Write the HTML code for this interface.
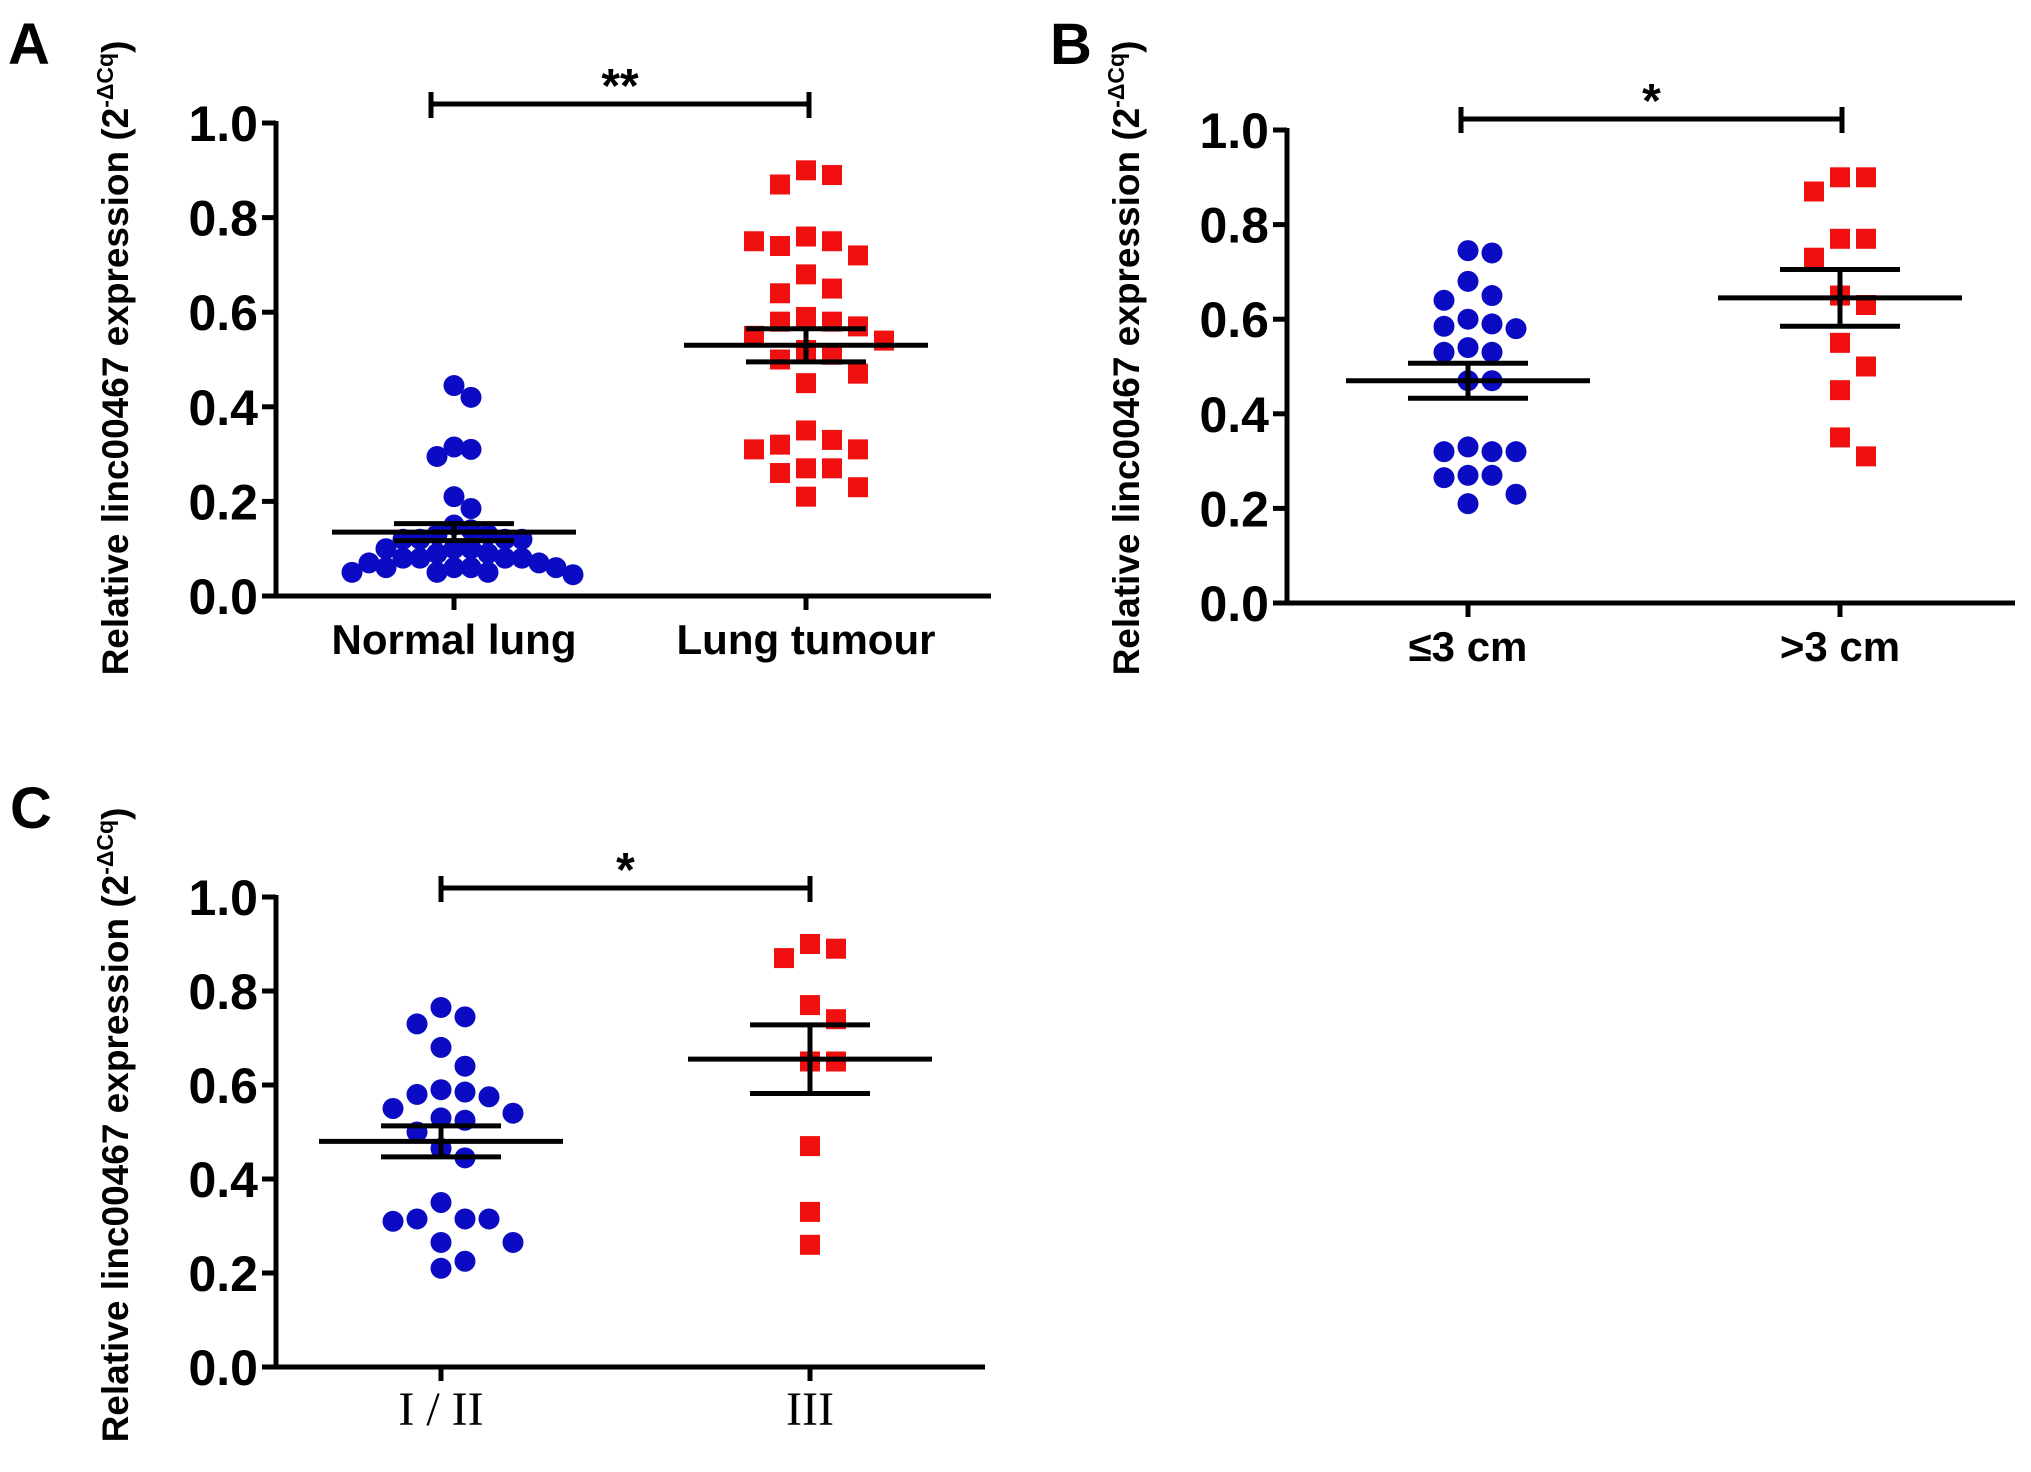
<!DOCTYPE html>
<html><head><meta charset="utf-8"><style>
html,body{margin:0;padding:0;background:#fff;}
svg{display:block;font-family:"Liberation Sans",Arial,sans-serif;}
</style></head><body>
<svg id="fig" width="2031" height="1472" viewBox="0 0 2031 1472" xmlns="http://www.w3.org/2000/svg"></svg>
<script>
// Panel A data
const aCategories = ["Normal lung", "Lung tumour"];
const aNormal = [0.445,0.42,0.315,0.31,0.295,0.21,0.185,0.15,0.14,0.13,0.13,0.12,0.12,0.12,0.12,0.10,0.10,0.10,0.09,0.09,0.08,0.08,0.08,0.08,0.07,0.07,0.06,0.06,0.06,0.06,0.05,0.05,0.05,0.045];
const aTumour = [0.90,0.89,0.87,0.76,0.75,0.74,0.72,0.75,0.68,0.65,0.64,0.59,0.58,0.58,0.57,0.55,0.54,0.52,0.51,0.50,0.47,0.45,0.35,0.33,0.32,0.31,0.31,0.27,0.27,0.26,0.23,0.21];
const aMean = [0.135, 0.53];
const aSem = [0.018, 0.035];
// Panel B data
const bCategories = ["\u22643 cm", ">3 cm"];
const bSmall = [0.745,0.74,0.68,0.65,0.64,0.60,0.59,0.585,0.58,0.54,0.53,0.53,0.47,0.47,0.33,0.32,0.32,0.32,0.27,0.27,0.265,0.23,0.21];
const bLarge = [0.90,0.90,0.87,0.77,0.77,0.73,0.65,0.63,0.55,0.50,0.45,0.35,0.31];
const bMean = [0.47, 0.645];
const bSem = [0.037, 0.06];
// Panel C data
const cCategories = ["I / II", "III"];
const cEarly = [0.765,0.745,0.73,0.68,0.64,0.59,0.585,0.58,0.575,0.55,0.54,0.53,0.525,0.50,0.465,0.445,0.35,0.315,0.315,0.315,0.31,0.265,0.265,0.225,0.21];
const cLate = [0.90,0.89,0.87,0.77,0.74,0.65,0.65,0.47,0.33,0.26];
const cMean = [0.48, 0.655];
const cSem = [0.033, 0.073];
const yTicks = [0, 0.2, 0.4, 0.6, 0.8, 1.0];
const yTickLabels = ["0.0","0.2","0.4","0.6","0.8","1.0"];

const NS = "http://www.w3.org/2000/svg";
const svg = document.getElementById("fig");
function mk(tag, attrs, parent){
  const e = document.createElementNS(NS, tag);
  for (const k in attrs) e.setAttribute(k, attrs[k]);
  (parent||svg).appendChild(e);
  return e;
}
function swarm(vals, yScale, d){
  const placed = [];
  return vals.map(v => {
    const y = yScale(v);
    let off = 0;
    for (let k = 0; k < 40; k++){
      const cand = k === 0 ? 0 : (k % 2 ? 1 : -1) * Math.ceil(k/2) * d;
      if (placed.every(p => Math.hypot(p[0]-cand, p[1]-y) >= d*0.98)){ off = cand; break; }
    }
    placed.push([off, y]);
    return [off, y];
  });
}
function panel(p){
  const g = mk("g", {});
  
  
  const yS = v => p.y0 - v * (p.y0 - p.y1);
  const lb = mk("text", {x:p.lx, y:p.ly, "font-size":58, "font-weight":"bold", fill:"#000"}, g);
  lb.textContent = p.letter;
  
  
  const ya = mk("line", {x1:p.ax, y1:p.y1-2, x2:p.ax, y2:p.y0+2, stroke:"#000", "stroke-width":5}, g);
  
  
  const xa = mk("line", {x1:p.ax, y1:p.y0, x2:p.axEnd, y2:p.y0, stroke:"#000", "stroke-width":5}, g);
  
  
  yTicks.forEach((t, i) => {
    const y = yS(t);
    mk("line", {x1:p.ax-14, y1:y, x2:p.ax, y2:y, stroke:"#000", "stroke-width":5}, g);
    const tl = mk("text", {x:p.ax-18, y:y+18, "font-size":50, "font-weight":"bold", "text-anchor":"end", fill:"#000"}, g);
    tl.textContent = yTickLabels[i];
    
    
  });
  const tt = mk("text", {x:0, y:0, "font-size":37, "font-weight":"bold", "text-anchor":"middle", fill:"#000",
    transform:`translate(${p.tx},${p.ty}) rotate(-90)`}, g);
  
  
  const s1 = mk("tspan", {}, tt); s1.textContent = "Relative linc00467 expression  (2";
  const s2 = mk("tspan", {"font-size":23, dy:-15}, tt); s2.textContent = "-\u0394Cq";
  const s3 = mk("tspan", {dy:15}, tt); s3.textContent = ")";
  p.series.forEach((vals, i) => {
    const cx = p.cols[i];
    mk("line", {x1:cx, y1:p.y0, x2:cx, y2:p.y0+14, stroke:"#000", "stroke-width":5}, g);
    const xl = mk("text", {x:cx, y:p.y0+58, "font-size":p.serif?48:42, "font-weight":p.serif?"normal":"bold", "text-anchor":"middle", fill:"#000",
      "font-family": p.serif ? '"Liberation Serif",serif' : '"Liberation Sans",sans-serif'}, g);
    xl.textContent = p.cats[i];
    
    
    const pts = swarm(vals, yS, p.steps[i]);
    pts.forEach(([dx, y]) => {
      let m;
      if (i === 0) m = mk("circle", {cx:cx+dx, cy:y, r:10.5, fill:"#0b0bc4"}, g);
      else m = mk("rect", {x:cx+dx-10, y:y-10, width:20, height:20, fill:"#f01010"}, g);
      
      
    });
  });
  p.series.forEach((vals, i) => {
    const cx = p.cols[i], m = p.mean[i], s = p.sem[i];
    const ym = yS(m), yh = yS(m+s), yl = yS(m-s);
    const ml = mk("line", {x1:cx-122, y1:ym, x2:cx+122, y2:ym, stroke:"#000", "stroke-width":5}, g);
    
    
    const eb = mk("path", {d:`M${cx},${yh}V${yl}M${cx-60},${yh}H${cx+60}M${cx-60},${yl}H${cx+60}`, stroke:"#000", "stroke-width":5, fill:"none"}, g);
    
    
  });
  const sb = mk("path", {d:`M${p.sx1},${p.sy+14}V${p.sy-12}M${p.sx1},${p.sy}H${p.sx2}M${p.sx2},${p.sy-12}V${p.sy+14}`, stroke:"#000", "stroke-width":5, fill:"none"}, g);
  
  
  const st = mk("text", {x:(p.sx1+p.sx2)/2, y:p.sy-2, "font-size":48, "font-weight":"bold", "text-anchor":"middle", fill:"#000"}, g);
  st.textContent = p.star;
  
  
}
panel({name:"panel-a", letter:"A", lx:8, ly:64, ax:276, axEnd:991, y0:596, y1:123, cols:[454,806], steps:[17,26],
  series:[aNormal, aTumour], mean:aMean, sem:aSem, cats:aCategories, tx:128, ty:358,
  sx1:431, sx2:809, sy:104, star:"**"});
panel({name:"panel-b", letter:"B", lx:1050, ly:64, ax:1287, axEnd:2015, y0:603, y1:130, cols:[1468,1840], steps:[24,26],
  series:[bSmall, bLarge], mean:bMean, sem:bSem, cats:bCategories, tx:1139, ty:358,
  sx1:1461, sx2:1842, sy:119, star:"*"});
panel({name:"panel-c", letter:"C", lx:10, ly:828, ax:276, axEnd:985, y0:1367, y1:897, cols:[441,810], steps:[24,26],
  series:[cEarly, cLate], mean:cMean, sem:cSem, cats:cCategories, tx:128, ty:1125, serif:true,
  sx1:441, sx2:810, sy:888, star:"*"});
</script>
</body></html>
